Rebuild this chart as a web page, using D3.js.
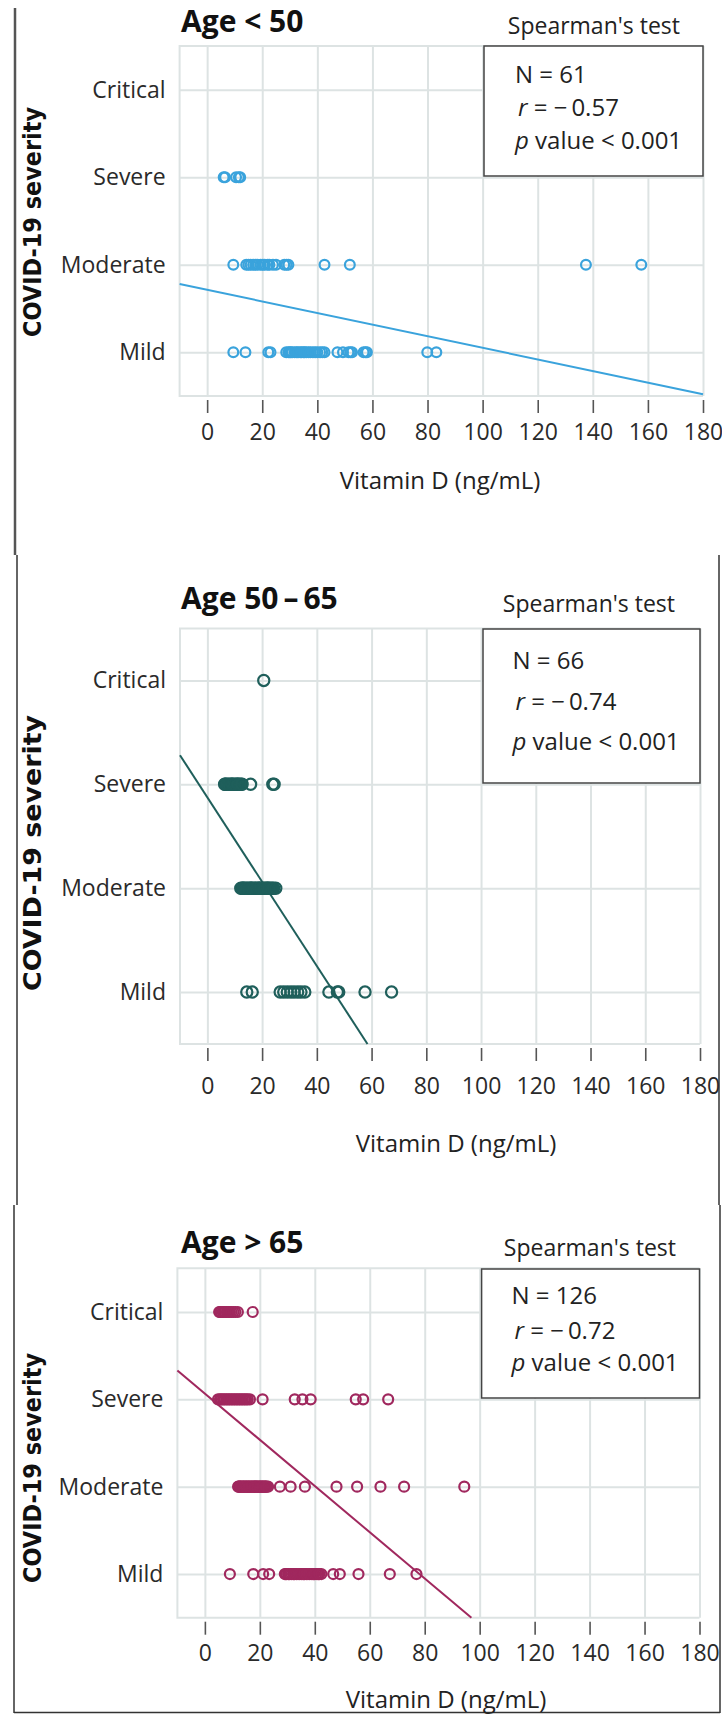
<!DOCTYPE html>
<html>
<head>
<meta charset="utf-8">
<script src="https://cdn.jsdelivr.net/npm/d3@7"></script>
<style>
  body { margin: 0; background: #fff; }
  svg { display: block; font-family: "Open Sans", sans-serif; }
</style>
</head>
<body>
<div id="chart"></div>
<script>
// categories and ticks
var severity = ["Mild", "Moderate", "Severe", "Critical"];
var xTicks = [0, 20, 40, 60, 80, 100, 120, 140, 160, 180];

// Age < 50 (vitamin D, ng/mL)
var u50Mild = [9.5, 13.9, 22.2, 23, 28.7, 29.5, 30, 30.4, 30.9, 31.8, 32.5, 33, 33.8, 34.3, 35, 35.4, 36, 36.8, 37.5, 38.4, 39.2, 40, 41, 41.8, 42.6, 47.3, 49.3, 51.3, 52, 52.6, 56.8, 57.5, 58, 79.9, 83.2];
var u50Moderate = [9.5, 14.2, 15, 15.8, 16.7, 17.5, 18.3, 19.4, 20.2, 20.9, 22, 22.6, 23.9, 25, 28, 28.8, 29.5, 42.6, 51.8, 137.5, 157.6];
var u50Severe = [6, 6.5, 10.5, 11.5, 12];
var u50Critical = [];

// Age 50-65
var midMild = [14.4, 16.4, 26.6, 27.9, 29.2, 30.5, 31.7, 33, 34.2, 35.6, 44.4, 47.5, 48, 57.6, 67.3];
var midModerate = [12.2, 12.7, 13, 13.2, 13.7, 14.2, 14.7, 15.2, 15.7, 16, 16.2, 16.7, 17.2, 17.7, 18.2, 18.7, 19, 19.2, 19.7, 20.2, 20.7, 21.2, 21.7, 22, 22.2, 22.7, 23.2, 23.7, 24.2, 25];
var midSevere = [6.3, 6.5, 6.8, 7.3, 7.8, 8.3, 8.8, 9, 9.3, 9.8, 10.3, 10.8, 11, 11.3, 11.8, 12.3, 12.7, 15.8, 23.9, 24.4];
var midCritical = [20.6];

// Age > 65
var o65Mild = [9.1, 17.6, 21.2, 23.4, 29.1, 29.4, 29.7, 30.3, 30.6, 30.9, 31.5, 32.1, 32.4, 32.7, 33.3, 33.9, 34.5, 35.1, 35.7, 36, 36.3, 36.9, 37.5, 38.1, 38.7, 39.3, 39.6, 39.9, 40.5, 41.1, 41.4, 41.7, 42.4, 46.7, 49.1, 55.9, 67.3, 77];
var o65Moderate = [12.1, 12.3, 12.5, 12.9, 13, 13.3, 13.7, 14, 14.1, 14.5, 14.9, 15, 15.3, 15.7, 16, 16.1, 16.5, 16.9, 17, 17.3, 17.7, 18, 18.1, 18.5, 18.9, 19, 19.3, 19.7, 20, 20.1, 20.5, 20.9, 21, 21.3, 21.7, 22, 22.1, 22.5, 23, 27.3, 31.2, 36.4, 47.9, 55.4, 63.9, 72.5, 94.4];
var o65Severe = [4.8, 5.5, 6, 6.6, 7.2, 7.8, 8.4, 9, 9.6, 10.2, 10.8, 11.4, 12, 12.6, 13.2, 13.8, 14.4, 15, 15.6, 16.4, 21, 32.7, 35.5, 38.5, 54.9, 57.6, 66.7];
var o65Critical = [5.2, 5.5, 5.8, 6.4, 6.9, 7.4, 8, 8.5, 9.1, 9.7, 10.4, 11.1, 12, 17.4];

// panel texts and stats
var titles = ["Age < 50", "Age 50\u2009\u2013\u200965", "Age > 65"];
var nValues = [61, 66, 126];
var rValues = ["\u2212\u20090.57", "\u2212\u20090.74", "\u2212\u20090.72"];
var pText = "value < 0.001";

// fitted regression line endpoints (x in ng/mL, y in severity units, Mild = 1)
var fitX = [[-10, 180], [-10, 58.5], [-10, 97]];
var fitY = [[1.78, 0.52], [3.28, 0.5], [3.33, 0.5]];

var colors = ["#3aa3dc", "#1f5f5b", "#a0285e"];

var panelData = [
  [u50Mild, u50Moderate, u50Severe, u50Critical],
  [midMild, midModerate, midSevere, midCritical],
  [o65Mild, o65Moderate, o65Severe, o65Critical]
];

// layout of each panel (pixel positions in the page)
var layouts = [
  { left: 179.6, right: 703, top: 46, bottom: 396, titleY: 32, spearX: 680, spearY: 34,
    box: [484, 46, 703, 176], nY: 83, rY: 116, pY: 149, textX: 515,
    labelY: 432, xTitleX: 440, xTitleY: 489, yTitleC: 222, yTitleLen: 230, r: 4.9 },
  { left: 180, right: 700, top: 628.5, bottom: 1044, titleY: 609, spearX: 675, spearY: 612,
    box: [483, 629, 700, 783], nY: 669, rY: 710, pY: 750, textX: 512.5,
    labelY: 1086, xTitleX: 456, xTitleY: 1152, yTitleC: 853, yTitleLen: 276, r: 5.6 },
  { left: 177.4, right: 699.5, top: 1268.3, bottom: 1617.7, titleY: 1253, spearX: 676, spearY: 1256,
    box: [481.6, 1269, 699.5, 1398], nY: 1304, rY: 1339, pY: 1371, textX: 511.5,
    labelY: 1653, xTitleX: 446, xTitleY: 1708, yTitleC: 1468, yTitleLen: 230, r: 5 }
];

var W = 722, H = 1714;
var svg = d3.select("#chart").append("svg")
  .attr("width", W)
  .attr("height", H);

// outer frames of the three stacked figures
var frames = [
  [15, 8, 15, 555], [17, 555, 17, 1205], [719, 555, 719, 1205],
  [14, 1205, 14, 1713], [720, 1205, 720, 1713], [14, 1712.5, 720, 1712.5]
];
svg.selectAll("line.frame")
  .data(frames)
  .enter().append("line")
  .attr("class", "frame")
  .attr("x1", function(d) { return d[0]; })
  .attr("y1", function(d) { return d[1]; })
  .attr("x2", function(d) { return d[2]; })
  .attr("y2", function(d) { return d[3]; })
  .style("stroke", function(d, i) { return i == 0 ? "#555" : "#333"; })
  .style("stroke-width", function(d, i) { return i == 0 ? 2.5 : 1.5; });

function drawPanel(k) {
  var L = layouts[k];
  var color = colors[k];
  var g = svg.append("g");

  var xScale = d3.scaleLinear().domain([-10, 180]).range([L.left, L.right]);
  var yScale = d3.scaleLinear().domain([0.5, 4.5]).range([L.bottom, L.top]);

  // vertical grid
  g.append("g")
    .attr("transform", "translate(0," + L.top + ")")
    .call(d3.axisBottom(xScale).tickValues(xTicks).tickSize(L.bottom - L.top).tickFormat(""))
    .call(function(a) {
      a.select(".domain").remove();
      a.selectAll("line").style("stroke", "#dde3e3").style("stroke-width", 2);
    });

  // horizontal grid + severity labels
  g.append("g")
    .attr("transform", "translate(" + L.left + ",0)")
    .call(d3.axisLeft(yScale).tickValues([1, 2, 3, 4])
      .tickSize(-(L.right - L.left))
      .tickPadding(14)
      .tickFormat(function(d) { return severity[d - 1]; }))
    .call(function(a) {
      a.select(".domain").remove();
      a.selectAll("line").style("stroke", "#dde3e3").style("stroke-width", 2);
      a.selectAll("text")
        .style("font-family", "Open Sans")
        .style("font-size", "23px")
        .style("fill", "#2a2a2a");
    });

  // light frame of plotting area (top, bottom, left)
  g.append("path")
    .attr("d", "M" + L.right + "," + L.top + "H" + L.left + "V" + L.bottom + "H" + L.right)
    .style("fill", "none")
    .style("stroke", "#dde3e3")
    .style("stroke-width", 2);

  // x axis below with dark ticks
  var axisY = L.bottom + 4;
  g.append("g")
    .attr("transform", "translate(0," + axisY + ")")
    .call(d3.axisBottom(xScale).tickValues(xTicks).tickSize(13))
    .call(function(a) {
      a.select(".domain").remove();
      a.selectAll("line").style("stroke", "#555").style("stroke-width", 1.6);
      a.selectAll("text")
        .attr("y", L.labelY - axisY)
        .attr("dy", "0.35em")
        .style("font-family", "Open Sans")
        .style("font-size", "23px")
        .style("fill", "#2a2a2a");
    });

  // fitted line
  var fit = fitX[k].map(function(v, i) { return [v, fitY[k][i]]; });
  g.append("path")
    .datum(fit)
    .attr("d", d3.line()
      .x(function(d) { return xScale(d[0]); })
      .y(function(d) { return yScale(d[1]); }))
    .style("fill", "none")
    .style("stroke", color)
    .style("stroke-width", 2);

  // points
  panelData[k].forEach(function(values, ci) {
    g.append("g").selectAll("circle")
      .data(values)
      .enter().append("circle")
      .attr("cx", function(d) { return xScale(d); })
      .attr("cy", yScale(ci + 1))
      .attr("r", L.r)
      .style("fill", "none")
      .style("stroke", color)
      .style("stroke-width", 2.2);
  });

  // title
  g.append("text")
    .attr("x", 181)
    .attr("y", L.titleY)
    .style("font-size", "30px")
    .style("font-weight", "bold")
    .style("fill", "#111")
    .text(titles[k]);

  g.append("text")
    .attr("x", L.spearX)
    .attr("y", L.spearY)
    .attr("text-anchor", "end")
    .style("font-size", "23px")
    .style("fill", "#222")
    .text("Spearman's test");

  // stats box
  g.append("rect")
    .attr("x", L.box[0])
    .attr("y", L.box[1])
    .attr("width", L.box[2] - L.box[0])
    .attr("height", L.box[3] - L.box[1])
    .style("fill", "#fff")
    .style("stroke", "#444")
    .style("stroke-width", 1.5);

  g.append("text")
    .attr("x", L.textX)
    .attr("y", L.nY)
    .style("font-size", "24px")
    .style("fill", "#222")
    .text("N = " + nValues[k]);

  var rt = g.append("text")
    .attr("x", L.textX + 3)
    .attr("y", L.rY)
    .style("font-size", "24px")
    .style("fill", "#222");
  rt.append("tspan").style("font-style", "italic").text("r");
  rt.append("tspan").text(" =  " + rValues[k]);

  var pt = g.append("text")
    .attr("x", L.textX)
    .attr("y", L.pY)
    .style("font-size", "24px")
    .style("fill", "#222");
  pt.append("tspan").style("font-style", "italic").text("p");
  pt.append("tspan").text(" " + pText);

  // axis titles
  g.append("text")
    .attr("x", L.xTitleX)
    .attr("y", L.xTitleY)
    .attr("text-anchor", "middle")
    .style("font-size", "24px")
    .style("fill", "#222")
    .text("Vitamin D (ng/mL)");

  g.append("text")
    .attr("transform", "translate(41," + L.yTitleC + ") rotate(-90)")
    .attr("text-anchor", "middle")
    .attr("textLength", L.yTitleLen)
    .attr("lengthAdjust", "spacingAndGlyphs")
    .style("font-family", "DejaVu Sans")
    .style("font-size", "24px")
    .style("font-weight", "bold")
    .style("fill", "#111")
    .text("COVID-19 severity");
}

for (var k = 0; k < 3; k++) {
  drawPanel(k);
}
</script>
</body>
</html>
